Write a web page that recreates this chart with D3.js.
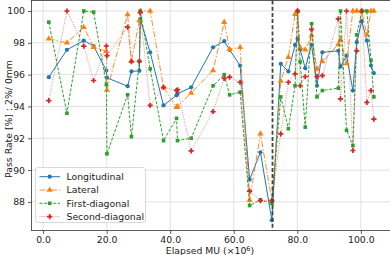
<!DOCTYPE html>
<html>
<head>
<meta charset="utf-8">
<script src="https://cdn.jsdelivr.net/npm/d3@7"></script>
<style>
  body { margin: 0; background: #fff; }
  svg { display: block; font-family: "DejaVu Sans", sans-serif; }
</style>
</head>
<body>
<svg id="chart"></svg>
<script>
// elapsed MU (x10^6) shared by all four profiles
var elapsed = [1.8, 7.5, 12.8, 15.9, 19.9, 20.1, 26.6, 27.8, 30.3, 30.6,
  33.7, 37.9, 42.0, 42.3, 46.6, 53.5, 57.0, 58.7, 62.0, 65.0,
  68.4, 72.0, 74.8, 77.2, 79.3, 80.1, 80.9, 82.5, 84.5, 86.2,
  87.9, 92.9, 93.6, 95.5, 97.5, 98.7, 100.3, 101.9, 103.2, 104.1];

var longitudinal = [95.84, 97.56, 98.14, 97.8, 96.26, 95.8, 95.27, 96.2, 96.24, 99.5,
  97.4, 94.06, 94.7, 94.8, 95.2, 97.72, 98.1, 97.56, 96.57, 89.4,
  91.12, 86.85, 96.68, 96.2, 97.87, 98.25, 97.58, 96.4, 97.87, 95.3,
  97.4, 97.5, 96.5, 97.2, 95.0, 98.04, 99.36, 98.14, 96.57, 96.1];

var lateral = [98.25, 98.0, 98.98, 97.72, 97.47, 95.04, 99.78, 96.85, 99.4, 100,
  100, 95.2, 93.95, 94.0, 94.85, 96.26, 99.3, 97.6, 97.72, 88.1,
  92.28, 88.08, 95.6, 97.1, 99.8, 100, 97.7, 97.56, 98.46, 96.36,
  96.82, 97.9, 98.2, 96.7, 100, 100, 100, 98.5, 100, 100];

var firstDiagonal = [99.3, 93.57, 100, 99.93, 95.38, 91.02, 94.73, 92.1, 96.84, 100,
  96.36, 91.85, 93.25, 91.85, 92.0, 95.3, 96.0, 94.73, 94.9, 87.77,
  88.13, 87.9, 94.6, 92.6, 95.3, 100, 96.8, 92.7, 99.2, 94.6,
  95.0, 95.15, 100, 92.5, 91.54, 98.5, 100, 100, 96.9, 94.6];

var secondDiagonal = [94.37, 100, 97.79, 95.63, 97.8, 97.2, 98.98, 96.82, 96.84, 99.9,
  94.06, 95.2, 95.0, 95.05, 91.2, 93.68, 95.77, 95.84, 95.52, 88.67,
  88.08, 88.1, 92.28, 95.52, 96.05, 100, 95.3, 95.88, 98.84, 95.88,
  95.94, 99.5, 94.48, 100, 91.23, 97.5, 100, 94.26, 95.0, 93.2];

var seriesNames = ["Longitudinal", "Lateral", "First-diagonal", "Second-diagonal"];
var xTicks = [0, 20, 40, 60, 80, 100];
var yTicks = [88, 90, 92, 94, 96, 98, 100];
var markerLine = 72.2;  // vertical dashed marker

var w = 390, h = 255;
var padL = 31.5, padR = 391.5, padT = 0.5, padB = 230.5;

var svg = d3.select("#chart").attr("width", w).attr("height", h);

var xScale = d3.scaleLinear().domain([-3.65, 109.65]).range([padL, padR]);
var yScale = d3.scaleLinear().domain([86.2, 100.66]).range([padB, padT]);

// grid
svg.append("g")
  .selectAll("line").data(xTicks).enter().append("line")
  .attr("x1", function(d) { return xScale(d); }).attr("x2", function(d) { return xScale(d); })
  .attr("y1", padT).attr("y2", padB)
  .attr("stroke", "#dedede").attr("stroke-width", 0.9);
svg.append("g")
  .selectAll("line").data(yTicks).enter().append("line")
  .attr("x1", padL).attr("x2", padR)
  .attr("y1", function(d) { return yScale(d); }).attr("y2", function(d) { return yScale(d); })
  .attr("stroke", "#dedede").attr("stroke-width", 0.9);

// axes
var xAxis = d3.axisBottom(xScale).tickValues(xTicks).tickFormat(d3.format(".1f")).tickSize(3.5).tickPadding(2.5);
var yAxis = d3.axisLeft(yScale).tickValues(yTicks).tickFormat(d3.format("d")).tickSize(3.5).tickPadding(3);

var gx = svg.append("g").attr("transform", "translate(0," + padB + ")").call(xAxis);
var gy = svg.append("g").attr("transform", "translate(" + padL + ",0)").call(yAxis);
[gx, gy].forEach(function(g) {
  g.select(".domain").remove();
  g.selectAll("text").attr("font-size", "9.3px").attr("fill", "#222").attr("font-family", "DejaVu Sans");
  g.selectAll("line").attr("stroke", "#333").attr("stroke-width", 0.8);
});

// frame
svg.append("rect")
  .attr("x", padL).attr("y", padT)
  .attr("width", padR - padL).attr("height", padB - padT)
  .attr("fill", "none").attr("stroke", "#333").attr("stroke-width", 0.8);

var styles = [
  { data: longitudinal,   color: "#1f77b4", dash: null,        opacity: 1,    symbol: "circle" },
  { data: lateral,        color: "#ff7f0e", dash: "6,2,1.5,2", opacity: 0.9,  symbol: "triangle" },
  { data: firstDiagonal,  color: "#2ca02c", dash: "3,1.6",     opacity: 1,    symbol: "square" },
  { data: secondDiagonal, color: "#d62728", dash: "1,1.3",     opacity: 0.55, symbol: "cross" }
];

function symbolFor(name) {
  var t = { circle: d3.symbolCircle, triangle: d3.symbolTriangle, square: d3.symbolSquare, cross: d3.symbolCross }[name];
  var size = { circle: 14, triangle: 16, square: 13, cross: 15 }[name];
  return d3.symbol().type(t).size(size)();
}

var line = d3.line()
  .x(function(d, i) { return xScale(elapsed[i]); })
  .y(function(d) { return yScale(d); });

var plot = svg.append("g");
styles.forEach(function(s) {
  plot.append("path")
    .attr("d", line(s.data))
    .attr("fill", "none")
    .attr("stroke", s.color)
    .attr("stroke-opacity", s.opacity)
    .attr("stroke-width", 1)
    .attr("stroke-dasharray", s.dash);
  plot.selectAll(null).data(s.data).enter().append("path")
    .attr("d", symbolFor(s.symbol))
    .attr("transform", function(d, i) { return "translate(" + xScale(elapsed[i]) + "," + yScale(d) + ")"; })
    .attr("fill", s.color);
});

// vertical dashed marker
svg.append("line")
  .attr("x1", xScale(markerLine)).attr("x2", xScale(markerLine))
  .attr("y1", padT).attr("y2", padB)
  .attr("stroke", "#444").attr("stroke-width", 1.8)
  .attr("stroke-dasharray", "4,2.2");

// legend
var lg = svg.append("g");
lg.append("rect")
  .attr("x", 35.5).attr("y", 167.5).attr("width", 110).attr("height", 55)
  .attr("rx", 2.5).attr("fill", "#fff").attr("fill-opacity", 0.85)
  .attr("stroke", "#d0d0d0").attr("stroke-width", 0.8);
styles.forEach(function(s, i) {
  var yy = 176.7 + i * 13.3;
  lg.append("line")
    .attr("x1", 39.5).attr("x2", 60).attr("y1", yy).attr("y2", yy)
    .attr("stroke", s.color).attr("stroke-opacity", s.opacity)
    .attr("stroke-width", 1).attr("stroke-dasharray", s.dash);
  lg.append("path")
    .attr("d", symbolFor(s.symbol))
    .attr("transform", "translate(49.7," + yy + ")")
    .attr("fill", s.color);
  lg.append("text")
    .attr("x", 66.5).attr("y", yy + 3.4)
    .attr("font-size", "9.3px").attr("fill", "#222")
    .text(seriesNames[i]);
});

// axis titles
svg.append("text")
  .attr("text-anchor", "middle")
  .attr("x", 210).attr("y", 253.5)
  .attr("font-size", "9.3px").attr("fill", "#222")
  .html("Elapsed MU (×10<tspan dy='-3' font-size='6.5px'>6</tspan><tspan dy='3'>)</tspan>");

svg.append("text")
  .attr("text-anchor", "middle")
  .attr("transform", "rotate(-90)")
  .attr("x", -119).attr("y", 12)
  .attr("font-size", "9.3px").attr("fill", "#222")
  .text("Pass Rate [%] : 2%/ 0mm");
</script>
</body>
</html>
